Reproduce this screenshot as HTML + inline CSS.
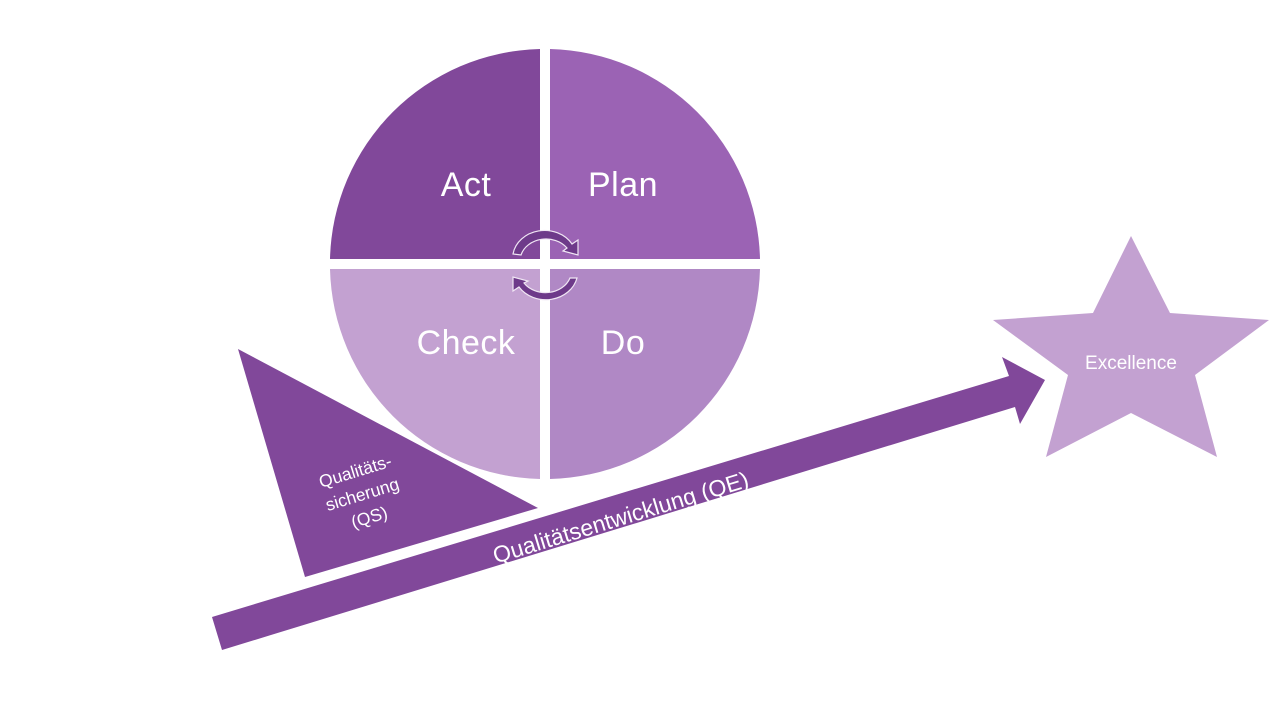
<!DOCTYPE html>
<html><head><meta charset="utf-8"><style>
html,body{margin:0;padding:0;background:#fff;width:1280px;height:720px;overflow:hidden}
text{font-family:"Liberation Sans",sans-serif;fill:#fff}
</style></head><body>
<svg width="1280" height="720" viewBox="0 0 1280 720" xmlns="http://www.w3.org/2000/svg">
<g>
<path d="M540,259 L540,49 A215,215 0 0 0 330,259 Z" fill="#81489A"/>
<path d="M550,259 L550,49 A215,215 0 0 1 760,259 Z" fill="#9B63B4"/>
<path d="M540,269 L540,479 A215,215 0 0 1 330,269 Z" fill="#C3A1D1"/>
<path d="M550,269 L550,479 A215,215 0 0 0 760,269 Z" fill="#B088C5"/>
</g>
<text x="466" y="196" font-size="34" text-anchor="middle" letter-spacing="0.5">Act</text>
<text x="623" y="196" font-size="34" text-anchor="middle" letter-spacing="0.5">Plan</text>
<text x="466" y="354" font-size="34" text-anchor="middle" letter-spacing="0.5">Check</text>
<text x="623" y="354" font-size="34" text-anchor="middle" letter-spacing="0.5">Do</text>
<g stroke="#F0E6F4" stroke-width="1.2" fill="#6E3A8A">
<path d="M513,254 A32,28 0 0 1 572,244 L578,240 L578,255 L563,251 L567,248 A26,22 0 0 0 521,255 Z"/>
<path d="M577,278 A32,28 0 0 1 519,287 L513,291 L513,277 L528,281 L524,283 A26,22 0 0 0 570,278 Z"/>
</g>
<polygon points="238,349 305,577 538,508" fill="#81489A"/>
<g transform="translate(364,500) rotate(-17)">
<text x="0" y="-24" font-size="17.5" text-anchor="middle">Qualitäts-</text>
<text x="0" y="0" font-size="17.5" text-anchor="middle">sicherung</text>
<text x="0" y="24" font-size="17.5" text-anchor="middle">(QS)</text>
</g>
<polygon points="212,617 1009,376 1002,357 1045,380 1020,424 1015,407 222,650" fill="#81489A"/>
<text transform="translate(623,525) rotate(-16.9)" font-size="23" text-anchor="middle">Qualitätsentwicklung (QE)</text>
<polygon points="1131,236 1170,313 1269,320 1195,375 1217,457 1131,413 1046,457 1068,375 993,320 1093,313" fill="#C3A1D1"/>
<text x="1131" y="369" font-size="19" text-anchor="middle">Excellence</text>
</svg>
</body></html>
